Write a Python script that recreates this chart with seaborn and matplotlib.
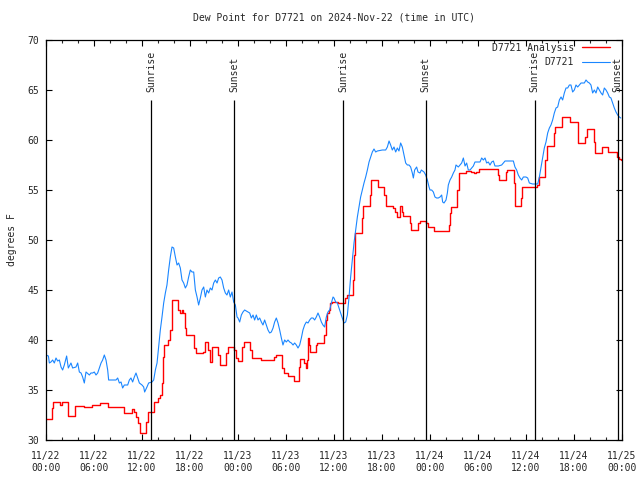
#!/usr/bin/env python3

# import packages
import pandas as pd
import seaborn as sns
import matplotlib
matplotlib.use('Agg')
import matplotlib.pyplot as plt
import matplotlib.dates as mdates

# start of the time window (UTC)
t0 = pd.Timestamp('2024-11-22 00:00')

# observed dew point (hours after t0, degrees F)
obs_hours = [0.0, 0.3, 0.42, 0.62, 0.83, 1.04, 1.25, 1.46, 1.67, 1.88, 2.08, 2.29, 2.58, 2.79, 3.12, 3.33,
             3.75, 3.96, 4.17, 4.38, 4.58, 4.79, 5.0, 5.42, 5.62, 5.83, 6.04, 6.25, 6.46, 6.67, 6.88, 7.08,
             7.29, 7.5, 7.71, 7.83, 8.33, 8.75, 8.96, 9.17, 9.38, 9.58, 9.79, 10.21, 10.42, 10.62, 10.83,
             11.04, 11.25, 11.46, 11.67, 12.0,
             12.21, 12.33, 12.62, 12.83, 13.25, 13.46, 13.67, 13.88, 14.08, 14.29, 14.5, 14.71, 14.92,
             15.12, 15.33, 15.54, 15.75, 15.96, 16.17, 16.38, 16.58, 16.79, 17.0, 17.21, 17.42, 17.62,
             17.83, 18.04, 18.25, 18.46, 18.67, 18.88, 19.08, 19.29, 19.5, 19.71, 19.92, 20.12, 20.33,
             20.54, 20.75, 20.96, 21.17, 21.38, 21.58, 21.79, 22.0, 22.21, 22.42, 22.62, 22.83, 23.04,
             23.25, 23.46, 23.67, 23.88,
             24.0, 24.21, 24.42, 24.62, 24.83, 25.25, 25.46, 25.67, 25.88, 26.08, 26.29, 26.5, 26.71,
             26.92, 27.12, 27.33, 27.54, 27.75, 27.96, 28.17, 28.38, 28.58, 28.79, 29.0, 29.21, 29.42,
             29.62, 29.83, 30.04, 30.25, 30.46, 30.67, 30.88, 31.08, 31.29, 31.5, 31.71, 31.92, 32.12,
             32.33, 32.54, 32.75, 32.96, 33.17, 33.38, 33.58, 33.79, 34.0, 34.21, 34.42, 34.62, 34.83,
             35.04, 35.25, 35.46, 35.67, 35.88,
             36.0, 36.21, 36.42, 36.62, 36.83, 37.04, 37.25, 37.46, 37.67, 37.88, 38.08, 38.29, 38.5,
             38.71, 38.92, 39.12, 39.33, 39.54, 39.75, 39.96, 40.17, 40.38, 40.58, 40.79, 41.0, 41.21,
             41.42, 42.04, 42.46, 42.67, 42.88, 43.08, 43.29, 43.5, 43.71, 43.92, 44.12, 44.33, 44.54,
             44.75, 44.96, 45.17, 45.38, 45.58, 45.79, 45.92, 46.08, 46.33, 46.5, 46.75, 46.92, 47.25,
             47.46, 47.67, 47.88,
             48.0, 48.21, 48.42, 48.62, 48.83, 49.04, 49.25, 49.46, 49.58, 49.75, 50.0, 50.17, 50.29,
             50.5, 50.71, 50.92, 51.12, 51.25, 51.54, 51.75, 51.96, 52.17, 52.38, 52.58, 52.79, 53.0,
             53.21, 53.42, 53.62, 54.25, 54.46, 54.67, 54.88, 55.08, 55.29, 55.5, 55.71, 55.92, 56.12,
             56.54, 56.96, 57.17, 57.38, 57.58, 58.0, 58.42, 58.62, 58.83, 59.04, 59.25, 59.46, 59.67,
             60.0,
             60.21, 60.42, 60.83, 61.46, 61.67, 61.88, 62.08, 62.29, 62.5, 62.71, 62.92, 63.12, 63.33,
             63.54, 63.75, 63.96, 64.17, 64.38, 64.58, 64.79, 65.0, 65.21, 65.42, 65.62, 65.83, 66.04,
             66.25, 66.46, 66.67, 66.88, 67.08, 67.29, 67.5, 67.71, 67.92, 68.12, 68.33, 68.54, 68.75,
             68.96, 69.17, 69.38, 69.58, 69.79, 70.0, 70.21, 70.42, 70.62, 70.83, 71.04, 71.25, 71.46,
             71.67, 71.85]
obs_dewpt = [38.5, 38.4, 37.7, 37.8, 38.0, 37.7, 38.2, 37.9, 38.0, 37.3, 37.0, 37.5, 38.4, 37.2, 37.7, 37.2,
             37.3, 37.7, 36.8, 36.7, 36.3, 35.7, 36.8, 36.5, 36.7, 36.7, 36.8, 36.5, 36.7, 37.2, 37.7, 38.0,
             38.5, 38.0, 37.0, 36.0, 36.0, 36.0, 36.2, 35.7, 35.8, 35.2, 35.5, 35.5, 36.0, 36.2, 35.8,
             36.3, 36.7, 36.2, 35.7, 35.5,
             35.3, 34.8, 35.3, 35.7, 35.8, 36.0, 37.0, 37.7, 39.3, 41.0, 42.3, 43.7, 44.7,
             45.5, 47.0, 48.3, 49.3, 49.2, 48.3, 47.5, 47.7, 47.2, 46.0, 45.7, 45.2, 45.5,
             46.3, 47.0, 46.8, 46.8, 45.0, 44.3, 43.5, 44.2, 45.0, 45.3, 44.3, 45.0, 44.7,
             45.2, 45.0, 45.7, 46.0, 45.7, 46.2, 46.3, 46.0, 45.2, 44.7, 44.5, 45.0, 44.3,
             44.8, 43.8, 43.5, 42.3,
             42.2, 41.8, 42.5, 42.8, 43.0, 42.8, 42.7, 42.2, 42.5, 42.0, 42.5, 42.0, 42.2,
             41.8, 41.5, 42.0, 41.5, 41.0, 40.7, 40.8, 41.2, 41.8, 42.2, 41.7, 41.0, 40.2,
             39.5, 40.0, 39.8, 40.0, 39.8, 39.7, 39.5, 39.7, 39.5, 39.2, 39.5, 40.2, 41.0,
             41.5, 41.8, 41.7, 42.0, 42.2, 42.2, 42.0, 42.3, 42.7, 42.3, 41.8, 41.5, 41.3,
             42.3, 42.8, 43.0, 43.7, 44.3,
             44.2, 43.8, 43.7, 43.2, 42.7, 42.2, 41.7, 41.8, 42.5, 44.3, 46.3, 48.0, 49.7,
             51.0, 52.3, 53.3, 54.3, 55.0, 55.7, 56.3, 57.0, 57.8, 58.3, 58.8, 59.1, 58.8,
             58.9, 59.0, 59.0, 59.3, 59.9, 59.5, 59.0, 59.3, 58.8, 59.2, 58.9, 59.7, 59.3,
             58.5, 57.7, 57.5, 57.5, 57.3, 56.7, 56.2, 57.0, 57.3, 56.8, 56.7, 57.0, 56.8,
             56.5, 56.0, 55.3,
             55.0, 55.0, 54.8, 54.3, 54.2, 54.2, 54.3, 54.5, 53.8, 53.7, 54.0, 54.7, 55.5,
             56.0, 56.3, 56.7, 57.0, 57.5, 57.3, 57.5, 57.7, 58.2, 57.4, 57.7, 57.0, 57.0,
             57.2, 57.4, 57.8, 57.8, 58.2, 58.0, 58.2, 57.7, 57.8, 57.5, 57.8, 57.9, 57.4,
             57.4, 57.5, 57.7, 57.9, 57.9, 57.9, 57.9, 57.3, 57.0, 56.5, 56.2, 56.0, 56.3,
             56.3,
             56.2, 55.7, 55.6, 55.6, 56.3, 57.3, 58.3, 59.2, 59.8, 60.7, 61.2, 61.5, 62.0,
             62.7, 63.2, 63.3, 64.0, 64.3, 64.0, 64.7, 65.2, 65.2, 65.5, 65.5, 64.8, 65.0,
             65.5, 65.3, 65.5, 65.7, 65.7, 65.7, 66.0, 65.8, 65.7, 65.5, 64.7, 65.0, 64.7,
             65.3, 65.0, 64.7, 64.5, 65.2, 65.0, 64.7, 64.3, 64.2, 63.7, 63.2, 62.8, 62.5,
             62.3, 62.2]

# analysis dew point, step values (hours after t0, degrees F)
ana_hours = [0.0, 0.7, 0.9, 1.75, 1.95, 2.71, 2.8, 3.6, 4.7, 5.75, 6.8, 7.8, 9.7, 10.7, 11.0, 11.3, 11.5,
             11.7, 12.5, 12.75, 13.55, 14.0, 14.25, 14.45, 14.65, 14.8, 15.3, 15.5, 15.7, 16.5, 16.75,
             16.95, 17.15, 17.35, 17.55, 18.5, 18.75, 19.6, 19.85, 20.3, 20.5, 20.7, 21.5, 21.7, 22.55,
             22.75, 23.55, 23.8, 23.95, 24.55, 24.75, 25.55, 25.7, 26.85, 28.5, 28.7, 29.55, 29.75,
             30.2, 31.0, 31.65, 31.8, 32.25, 32.45, 32.6, 32.7, 32.9, 33.0, 33.7, 33.9, 34.75, 34.95,
             35.15, 35.35, 35.55, 35.8, 36.55, 37.4, 37.6, 38.4, 38.5, 38.65, 39.45, 39.6, 40.45,
             40.6, 41.45, 42.25, 42.5, 43.4, 43.6, 43.85, 44.25, 44.45, 44.6, 45.45, 45.6, 46.55,
             46.7, 47.55, 47.8, 48.55, 50.4, 50.55, 50.65, 51.4, 51.6, 52.5, 53.1, 53.5, 53.75,
             54.15, 56.45, 56.6, 57.5, 57.6, 58.5, 58.6, 59.35, 59.5, 61.4, 61.6, 62.4, 62.6, 63.45,
             63.65, 64.5, 65.55, 66.55, 67.4, 67.6, 68.45, 68.6, 69.5, 70.3, 71.35, 71.6, 71.85]
ana_dewpt = [32.1, 33.2, 33.8, 33.5, 33.8, 33.0, 32.4, 33.4, 33.3, 33.5, 33.7, 33.3, 32.7, 33.1, 32.8, 32.3,
             31.7, 30.7, 31.8, 32.8, 33.8, 34.2, 34.5, 35.7, 38.3, 39.5, 40.0, 41.0, 44.0, 43.0, 42.7,
             43.0, 42.7, 41.2, 40.5, 39.2, 38.7, 38.8, 39.8, 39.0, 37.8, 39.3, 38.5, 37.5, 38.7,
             39.3, 39.0, 38.2, 37.9, 39.3, 39.8, 39.0, 38.2, 38.0, 38.3, 38.5, 37.2, 36.7,
             36.4, 35.9, 37.3, 38.1, 37.7, 37.2, 38.0, 40.2, 39.5, 38.8, 39.5, 39.7, 40.5, 42.0,
             42.7, 43.0, 43.7, 43.8, 43.7, 44.2, 44.5, 46.0, 48.5, 50.7, 52.2, 53.4, 54.5,
             56.0, 55.3, 54.5, 53.4, 53.2, 52.8, 52.3, 53.4, 52.8, 52.4, 51.7, 51.0, 51.7,
             51.9, 51.7, 51.3, 50.9, 51.5, 52.7, 53.3, 55.0, 56.7, 56.9, 56.8, 56.7, 56.8,
             57.1, 56.5, 56.0, 56.8, 57.0, 55.7, 53.4, 54.2, 55.3, 55.5, 56.3, 58.0, 59.4, 60.7,
             61.3, 62.3, 61.8, 59.7, 60.3, 61.1, 59.8, 58.7, 59.3, 58.8, 58.3, 58.1, 58.0]

# sunrise / sunset markers (hours after t0)
sun_hours = [13.17, 23.55, 37.18, 47.45, 61.1, 71.45]
sun_labels = ['Sunrise', 'Sunset', 'Sunrise', 'Sunset', 'Sunrise', 'Sunset']

# build dataframes
obs = pd.DataFrame({'time': t0 + pd.to_timedelta(obs_hours, unit='h'), 'dewpt': obs_dewpt})
ana = pd.DataFrame({'time': t0 + pd.to_timedelta(ana_hours, unit='h'), 'dewpt': ana_dewpt})
sun_times = t0 + pd.to_timedelta(sun_hours, unit='h')

# style
sns.set_style('white')
plt.rcParams['font.family'] = ['DejaVu Sans Mono']
plt.rcParams['font.size'] = 7
plt.rcParams['axes.linewidth'] = 0.9
plt.rcParams['axes.edgecolor'] = 'black'

fig = plt.figure(figsize=(6.4, 4.8), dpi=100)
ax = fig.add_axes([46 / 640, 40 / 480, 576 / 640, 400 / 480])

sns.lineplot(data=ana, x='time', y='dewpt', ax=ax, color='#ff0000', linewidth=1.0,
             drawstyle='steps-post', estimator=None, label='D7721 Analysis')
sns.lineplot(data=obs, x='time', y='dewpt', ax=ax, color='#1a86ff', linewidth=0.8,
             estimator=None, label='D7721')

# sunrise / sunset lines
ax.vlines(sun_times, 30, 64, colors='black', linewidth=0.9)
for t, lab in zip(sun_times, sun_labels):
    ax.text(t, 64.8, lab, rotation=90, ha='center', va='bottom', fontsize=7)

# axes
ax.set_xlim(t0, t0 + pd.Timedelta(hours=72))
ax.set_ylim(30, 70)
ax.set_yticks(range(30, 71, 5))
ax.xaxis.set_major_locator(mdates.HourLocator(byhour=[0, 6, 12, 18]))
ax.xaxis.set_minor_locator(mdates.HourLocator(byhour=range(0, 24, 2)))
ax.xaxis.set_major_formatter(mdates.DateFormatter('%m/%d\n%H:%M'))
ax.tick_params(which='major', direction='in', length=4.5, width=0.8, top=True, right=True,
               bottom=True, left=True, labelsize=7, color='black')
ax.tick_params(which='minor', direction='in', length=2.5, width=0.8, top=True, bottom=True)
ax.tick_params(axis='x', which='major', pad=8)
ax.tick_params(axis='y', which='major', pad=5)
for lbl in ax.get_xticklabels():
    lbl.set_linespacing(1.25)

ax.set_xlabel('')
ax.set_ylabel('degrees F', fontsize=7)
ax.yaxis.set_label_coords(-0.051, 0.5)
ax.set_title('Dew Point for D7721 on 2024-Nov-22 (time in UTC)', fontsize=7, pad=14)

ax.legend(loc='upper right', bbox_to_anchor=(0.979, 0.993), frameon=False, markerfirst=False,
          handlelength=2.9, handletextpad=0.8, labelspacing=0.45, borderpad=0, borderaxespad=0,
          fontsize=7)

plt.savefig('out.png', dpi=100)
